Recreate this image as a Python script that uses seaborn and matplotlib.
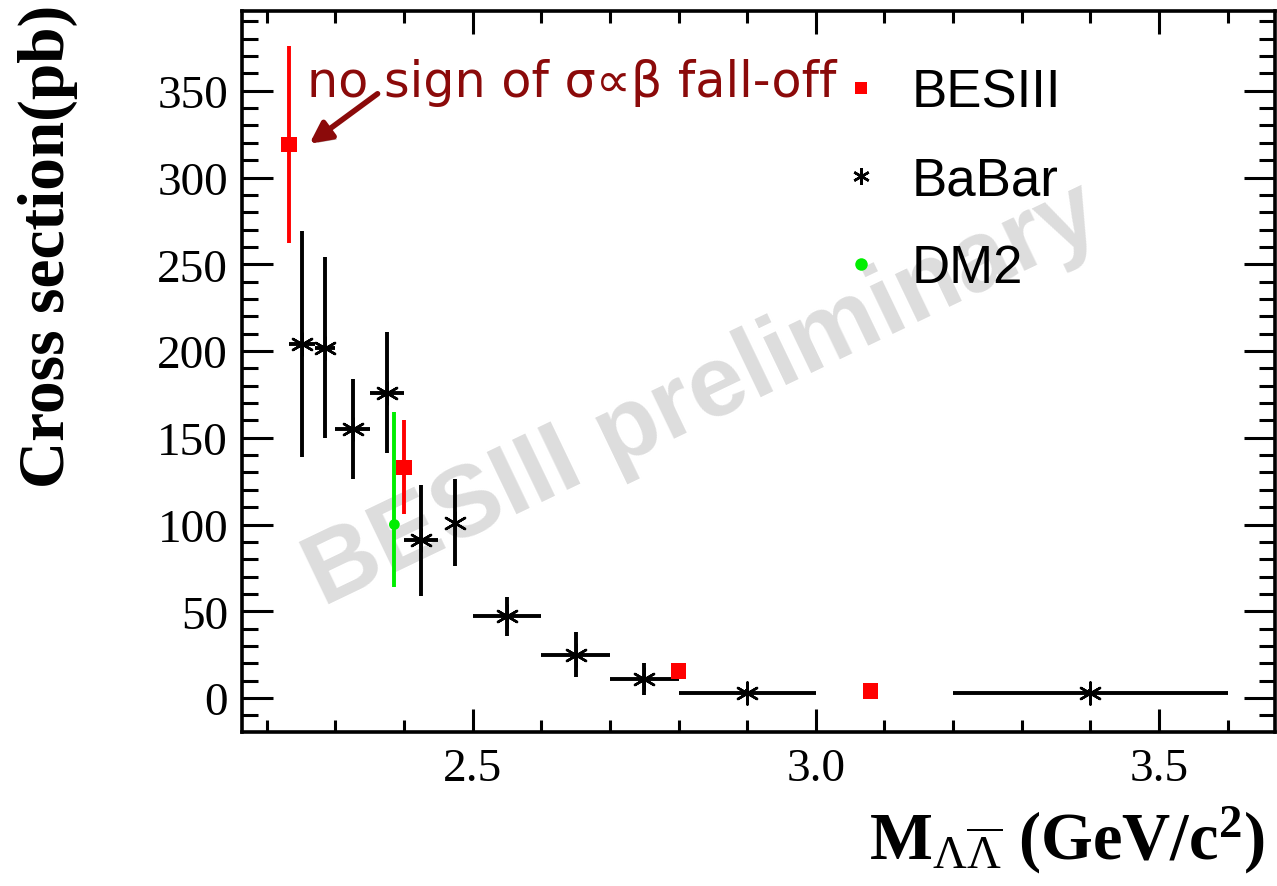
import matplotlib
matplotlib.use("Agg")
import matplotlib.pyplot as plt
import matplotlib.patheffects as pe
from matplotlib.lines import Line2D
from matplotlib.ticker import MultipleLocator, FormatStrFormatter
import numpy as np
import pandas as pd
import seaborn as sns

# BESIII measurements: mass (GeV/c^2), cross section (pb), error (pb)
besiii_m = [2.2324, 2.400, 2.800, 3.080]
besiii_xs = [319, 133, 15.6, 4.0]
besiii_err = [57, 27, 4, 1]

# BaBar ISR measurements: bin centre, half bin width, cross section, error
babar_m = [2.251, 2.285, 2.325, 2.375, 2.425, 2.475, 2.55, 2.65, 2.75, 2.90, 3.40]
babar_dm = [0.019, 0.015, 0.025, 0.025, 0.025, 0.0, 0.05, 0.05, 0.05, 0.10, 0.20]
babar_xs = [204, 202, 155, 176, 91, 101, 47, 25, 11, 3, 3]
babar_err = [65, 52, 29, 35, 32, 25, 11, 13, 9, 2, 2]

# DM2 measurement (asymmetric errors)
dm2_m = [2.386]
dm2_xs = [100]
dm2_err_lo = [36]
dm2_err_hi = [65]

legend_labels = ["BESIII", "BaBar", "DM2"]
note_text = "no sign of σ∝β fall-off"

sns.set_theme(style="ticks")
plt.rcParams["font.family"] = ["Liberation Serif", "DejaVu Serif"]
plt.rcParams["text.color"] = "black"
plt.rcParams["axes.labelcolor"] = "black"
plt.rcParams["xtick.color"] = "black"
plt.rcParams["ytick.color"] = "black"
plt.rcParams["mathtext.fontset"] = "custom"
plt.rcParams["mathtext.rm"] = "Liberation Serif"
plt.rcParams["mathtext.bf"] = "Liberation Serif:bold"
plt.rcParams["mathtext.it"] = "Liberation Serif:italic"

RED = "#ff0000"
GREEN = "#00ee00"
DARKRED = "#8b0a0a"

W, H = 1277, 887
fig = plt.figure(figsize=(W / 100, H / 100), dpi=100)
ax = fig.add_axes([242 / W, 1 - 733 / H, (1275 - 242) / W, (733 - 12) / H])

# watermark behind the data
ax.text(714 / W, 1 - 420 / H, "BESIII preliminary", transform=fig.transFigure,
        fontsize=73, fontweight="bold", family="Liberation Sans", color="#dddddd",
        rotation=25.6, rotation_mode="anchor", ha="center", va="baseline",
        zorder=0.5)

besiii = pd.DataFrame({"m": besiii_m, "xs": besiii_xs, "err": besiii_err})
babar = pd.DataFrame({"m": babar_m, "dm": babar_dm, "xs": babar_xs, "err": babar_err})
dm2 = pd.DataFrame({"m": dm2_m, "xs": dm2_xs, "lo": dm2_err_lo, "hi": dm2_err_hi})

# error bars
ax.errorbar(babar["m"], babar["xs"], xerr=babar["dm"], yerr=babar["err"],
            fmt="none", ecolor="black", elinewidth=2.8, capsize=0, zorder=2)
ax.errorbar(dm2["m"], dm2["xs"], yerr=[dm2["lo"], dm2["hi"]], fmt="none",
            ecolor=GREEN, elinewidth=2.8, capsize=0, zorder=2)
ax.errorbar(besiii["m"], besiii["xs"], yerr=besiii["err"], fmt="none", ecolor=RED,
            elinewidth=2.8, capsize=0, zorder=3)

# markers
sns.scatterplot(data=babar, x="m", y="xs", marker=(6, 2, 0), color="black",
                s=250, linewidth=1.8, ax=ax, zorder=4, legend=False)
sns.scatterplot(data=dm2, x="m", y="xs", marker="o", color=GREEN, s=60,
                edgecolor="none", ax=ax, zorder=4, legend=False)
sns.scatterplot(data=besiii, x="m", y="xs", marker="s", color=RED, s=120,
                edgecolor="none", ax=ax, zorder=5, legend=False)

ax.set_xlim(2.164, 3.669)
ax.set_ylim(-19.6, 396)
ax.set_xlabel("")
ax.set_ylabel("")

ax.xaxis.set_major_locator(MultipleLocator(0.5))
ax.xaxis.set_minor_locator(MultipleLocator(0.1))
ax.xaxis.set_major_formatter(FormatStrFormatter("%.1f"))
ax.yaxis.set_major_locator(MultipleLocator(50))
ax.yaxis.set_minor_locator(MultipleLocator(10))

ax.tick_params(which="both", direction="in", top=True, right=True, width=2.2,
               colors="black", labelsize=34)
ax.tick_params(axis="x", which="major", length=16.5, pad=11)
ax.tick_params(axis="x", which="minor", length=8.6)
ax.tick_params(axis="y", which="major", length=22, pad=10)
ax.tick_params(axis="y", which="minor", length=11.5)
for sp in ax.spines.values():
    sp.set_linewidth(2.6)
    sp.set_color("black")
    sp.set_visible(True)

# axis titles
fig.text(48 / W, 1 - 246 / H, "Cross section(pb)", rotation=90, ha="center",
         va="center", fontsize=47, fontweight="bold", family="Liberation Serif",
         color="black")
fig.text(1265 / W, 1 - 860 / H,
         r"$\mathbf{M}_{\Lambda\overline{\Lambda}}$ $\mathbf{(GeV/c^{2})}$",
         ha="right", va="baseline", fontsize=48, color="black")

# legend
handles = [
    Line2D([], [], ls="none", marker="s", color=RED, markersize=9, markeredgewidth=0),
    Line2D([], [], ls="none", marker=(6, 2, 0), color="black", markersize=12,
           markeredgewidth=1.8),
    Line2D([], [], ls="none", marker="o", color=GREEN, markersize=9, markeredgewidth=0),
]
leg = ax.legend(handles, legend_labels, loc="upper left",
                bbox_to_anchor=((835 - 242) / 1033, (733 - 68) / 721),
                frameon=False, borderpad=0, borderaxespad=0, handlelength=1.0,
                handletextpad=0.45, labelspacing=0.72,
                prop={"family": "Liberation Sans", "size": 38})
for t in leg.get_texts():
    t.set_color("black")

# annotation
ax.text(2.259, 347, note_text, color=DARKRED, fontsize=35.5,
        family=["DejaVu Sans"], ha="left", va="baseline", zorder=6)
ax.annotate("", xy=(2.2624, 319.5), xytext=(2.3615, 348.3),
            arrowprops=dict(arrowstyle="-|>", color=DARKRED, lw=4,
                            mutation_scale=32, shrinkA=0, shrinkB=0,
                            path_effects=[pe.SimplePatchShadow(offset=(2, -2), alpha=0.35),
                                          pe.Normal()]),
            zorder=6)

fig.savefig("out.png", dpi=100)
